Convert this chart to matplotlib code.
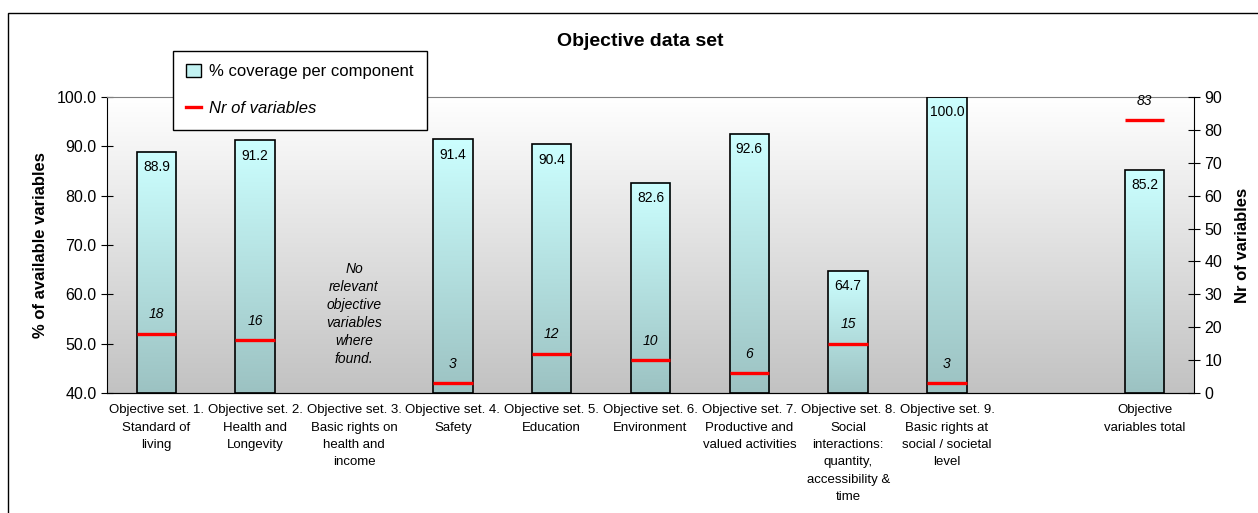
import numpy as np
import matplotlib
matplotlib.use('Agg')
import matplotlib.pyplot as plt
from matplotlib.patches import Patch, Rectangle
from matplotlib.lines import Line2D
from matplotlib.colors import LinearSegmentedColormap

plt.rcParams['font.family'] = ['Liberation Sans', 'DejaVu Sans']

# data
categories = ["Objective set. 1.\nStandard of\nliving",
              "Objective set. 2.\nHealth and\nLongevity",
              "Objective set. 3.\nBasic rights on\nhealth and\nincome",
              "Objective set. 4.\nSafety",
              "Objective set. 5.\nEducation",
              "Objective set. 6.\nEnvironment",
              "Objective set. 7.\nProductive and\nvalued activities",
              "Objective set. 8.\nSocial\ninteractions:\nquantity,\naccessibility &\ntime",
              "Objective set. 9.\nBasic rights at\nsocial / societal\nlevel",
              "",
              "Objective\nvariables total"]
coverage = [88.9, 91.2, np.nan, 91.4, 90.4, 82.6, 92.6, 64.7, 100.0, np.nan, 85.2]
nr_vars = [18, 16, np.nan, 3, 12, 10, 6, 15, 3, np.nan, 83]
note = "No\nrelevant\nobjective\nvariables\nwhere\nfound."

W, H = 1258, 513
fig = plt.figure(figsize=(W/100, H/100), dpi=100)
ax = fig.add_axes([107/W, 1-393/H, (1194-107)/W, (393-97)/H])

x = np.arange(len(categories))
bw = 0.4

# plot area gradient
bg = LinearSegmentedColormap.from_list('bg', ['#c2c2c2', '#ffffff'])
ax.imshow(np.linspace(0, 1, 256).reshape(-1, 1)[::-1], extent=[0, 1, 0, 1], transform=ax.transAxes,
          cmap=bg, aspect='auto', zorder=0)

barcm = LinearSegmentedColormap.from_list('bar', ['#9cc2c2', '#ccffff'])
bars = ax.bar(x, np.array(coverage) - 40, bw, bottom=40, facecolor='none', edgecolor='black',
              linewidth=1.2, zorder=3)
for xi, v in zip(x, coverage):
    if np.isnan(v):
        continue
    ax.imshow(np.linspace(0, 1, 256).reshape(-1, 1)[::-1], extent=[xi-bw/2, xi+bw/2, 40, v],
              cmap=barcm, aspect='auto', zorder=2)
    ax.annotate('%.1f' % v, (xi, v), xytext=(0, -6), textcoords='offset points',
                ha='center', va='top', fontsize=10, zorder=4)

ax.text(2, 56, note, ha='center', va='center', fontsize=10, style='italic', linespacing=1.35)

ax.set_xlim(-0.5, len(categories)-0.5)
ax.set_ylim(40, 100)
ax.set_yticks(np.arange(40, 101, 10))
ax.set_yticklabels(['%.1f' % t for t in np.arange(40, 101, 10)])
ax.set_xticks(x)
ax.set_xticklabels(categories, fontsize=9.5, linespacing=1.6)
ax.tick_params(axis='x', length=0, pad=8)
ax.tick_params(axis='y', direction='inout', length=8, labelsize=11.5)
ax.set_ylabel('% of available variables', fontsize=12, fontweight='bold', labelpad=6)
ax.spines['top'].set_color('#808080')
ax.spines['right'].set_visible(False)

ax2 = ax.twinx()
nv = np.array(nr_vars, dtype=float)
ok = ~np.isnan(nv)
ax2.hlines(nv[ok], x[ok]-bw/2, x[ok]+bw/2, color='red', linewidth=2.4, zorder=5)
for xi, n in zip(x[ok], nv[ok]):
    ax2.annotate('%d' % n, (xi, n), xytext=(0, 14), textcoords='offset points',
                 ha='center', va='center', fontsize=10, style='italic')
ax2.set_ylim(0, 90)
ax2.set_yticks(np.arange(0, 91, 10))
ax2.tick_params(axis='y', direction='inout', length=8, labelsize=11.5)
ax2.set_ylabel('Nr of variables', fontsize=12, fontweight='bold', labelpad=9)
ax2.spines['top'].set_visible(False)
ax2.spines['left'].set_visible(False)

fig.text(640/W, 1-42/H, 'Objective data set', ha='center', va='center', fontsize=14, fontweight='bold')

handles = [Patch(facecolor='#c2f2f2', edgecolor='black'), Line2D([], [], color='red', linewidth=2.4)]
leg = fig.legend(handles, ['% coverage per component', 'Nr of variables'], loc='upper left',
                 bbox_to_anchor=(173/W, 1-51/H), bbox_transform=fig.transFigure, fontsize=12,
                 frameon=True, fancybox=False, edgecolor='black', framealpha=1, borderaxespad=0,
                 handlelength=0.9, handleheight=0.8, labelspacing=1.3, borderpad=0.8, handletextpad=0.45)
leg.get_frame().set_linewidth(1.0)
leg.get_texts()[1].set_style('italic')

fig.patches.append(Rectangle((8/W, -0.1), 2, 1-13/H+0.1, transform=fig.transFigure,
                             fill=False, edgecolor='black', linewidth=1))

fig.savefig('out.png', dpi=100)
